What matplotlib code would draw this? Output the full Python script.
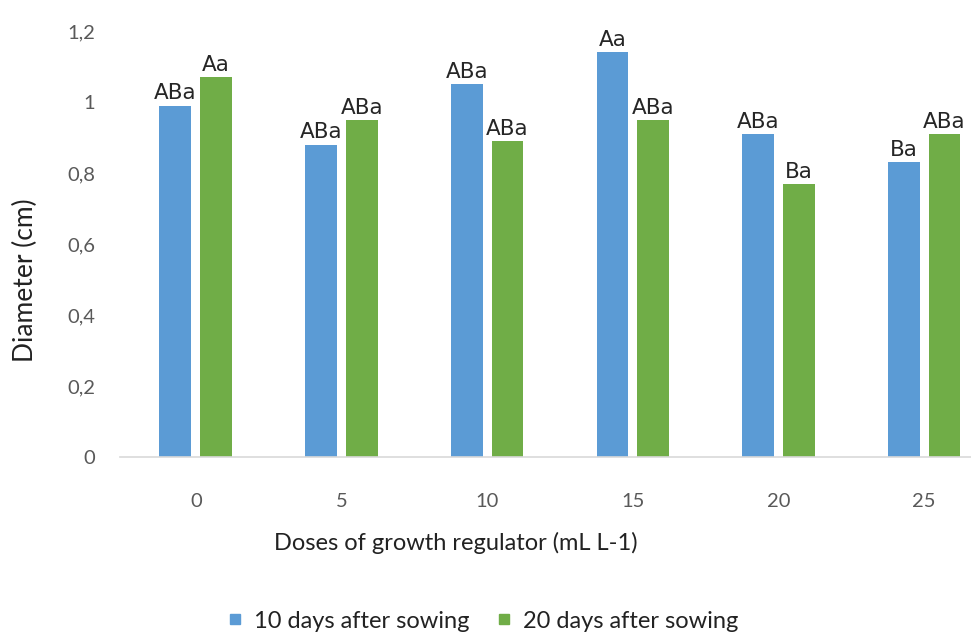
import numpy as np
from matplotlib import pyplot as plt
from matplotlib.lines import Line2D

doses = ['0', '5', '10', '15', '20', '25']
d10 = [0.99, 0.88, 1.05, 1.14, 0.91, 0.83]
d20 = [1.07, 0.95, 0.89, 0.95, 0.77, 0.91]
lab10 = ['ABa', 'ABa', 'ABa', 'Aa', 'ABa', 'Ba']
lab20 = ['Aa', 'ABa', 'ABa', 'ABa', 'Ba', 'ABa']
yticks = [0, 0.2, 0.4, 0.6, 0.8, 1.0, 1.2]
yticklabels = ['0', '0,2', '0,4', '0,6', '0,8', '1', '1,2']

blue = '#5B9BD5'
green = '#70AD47'

fig = plt.figure(figsize=(9.71, 6.33), dpi=100)
ax = fig.add_axes([120/971, 1-457/633, 877/971, (457-31)/633])

x = np.arange(len(doses))
w = 0.218
off = 0.14
b1 = ax.bar(x - off, d10, w, color=blue)
b2 = ax.bar(x + off, d20, w, color=green)

for rect, t in zip(b1, lab10):
    ax.text(rect.get_x() + rect.get_width()/2, rect.get_height() + 0.006, t,
            ha='center', va='bottom', fontsize=15.5, color='#262626')
for rect, t in zip(b2, lab20):
    ax.text(rect.get_x() + rect.get_width()/2, rect.get_height() + 0.006, t,
            ha='center', va='bottom', fontsize=15.5, color='#262626')

ax.set_xlim(-0.52, 5.5)
ax.set_ylim(0, 1.2)
ax.set_xticks(x)
ax.set_xticklabels(doses, family='Lato')
ax.set_yticks(yticks)
ax.set_yticklabels(yticklabels, family='Lato')
ax.tick_params(length=0, labelsize=14.5, colors='#595959')
ax.tick_params(axis='x', pad=26)
ax.tick_params(axis='y', pad=18)
for s in ['top', 'right', 'left']:
    ax.spines[s].set_visible(False)
ax.spines['bottom'].set_color('#D9D9D9')
ax.spines['bottom'].set_linewidth(1.2)

fig.text(25/971, 1-280/633, 'Diameter (cm)', rotation=90, ha='center', va='center',
         fontsize=19, family='Lato', color='#222222')
fig.text(456/971, 1-543/633, 'Doses of growth regulator (mL L-1)', ha='center', va='center',
         fontsize=17, family='Lato', color='#222222')

handles = [Line2D([], [], marker='s', ls='', color=blue, markersize=7.5),
           Line2D([], [], marker='s', ls='', color=green, markersize=7.5)]
fig.legend(handles, ['10 days after sowing', '20 days after sowing'],
           loc='center', bbox_to_anchor=(482/971, 1-621/633), ncol=2, frameon=False,
           prop={'family': 'Lato', 'size': 17}, handletextpad=0.4, columnspacing=1.1,
           handlelength=0.8, labelcolor='#222222')

fig.savefig('out.png', dpi=100)
